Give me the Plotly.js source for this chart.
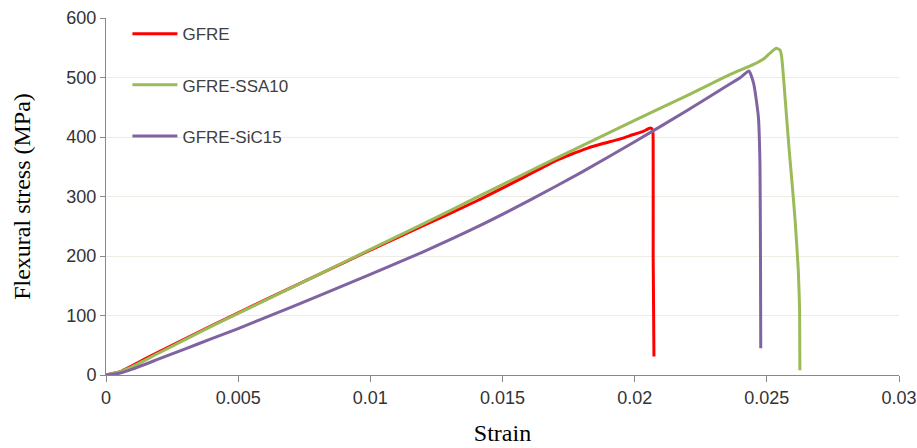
<!DOCTYPE html>
<html>
<head>
<meta charset="utf-8">
<script src="https://cdn.plot.ly/plotly-3.0.1.min.js"></script>
<style>html,body{margin:0;padding:0;background:#fff}#chart{width:917px;height:448px}</style>
</head>
<body>
<div id="chart"></div>
<script>
// Series data
const gfreStrain   = [0, 0.0005, 0.001, 0.002, 0.004, 0.006, 0.008, 0.010, 0.012, 0.014, 0.0157, 0.0170, 0.0176, 0.0182, 0.0188, 0.0194, 0.0198, 0.0203, 0.0206, 0.02068, 0.0207, 0.0207, 0.02073];
const gfreStress   = [0, 5, 16, 39, 83, 126, 168, 210, 251, 292, 330, 360, 371, 381, 389, 396, 402, 409, 415, 412, 380, 200, 31];

const ssaStrain    = [0, 0.0005, 0.001, 0.002, 0.004, 0.006, 0.008, 0.010, 0.012, 0.014, 0.016, 0.018, 0.020, 0.022, 0.0236, 0.0245, 0.0249, 0.0251, 0.02536, 0.0255, 0.02556, 0.02575, 0.02584, 0.02596, 0.02607, 0.02619, 0.02624, 0.02625];
const ssaStress    = [0, 5, 14, 37, 82, 125, 168, 211, 254, 298, 342, 385, 428, 470, 505, 522, 532, 540, 549, 546, 535, 432, 381, 320, 260, 176, 109, 8];

const sicStrain    = [0, 0.0005, 0.001, 0.002, 0.003, 0.004, 0.005, 0.006, 0.008, 0.010, 0.012, 0.014, 0.016, 0.018, 0.020, 0.022, 0.0236, 0.0240, 0.02432, 0.0245, 0.02468, 0.02474, 0.02476, 0.02477];
const sicStress    = [0, 3, 10, 27, 44, 61, 78, 96, 132, 169, 207, 248, 293, 341, 392, 445, 489, 500, 511, 490, 434, 355, 200, 45];

const seriesNames  = ["GFRE", "GFRE-SSA10", "GFRE-SiC15"];
const seriesColors = ["#ff0000", "#9bbb59", "#8064a2"];

const xTickVals = [0, 0.005, 0.01, 0.015, 0.02, 0.025, 0.03];
const xTickText = ["0", "0.005", "0.01", "0.015", "0.02", "0.025", "0.03"];
const yTickVals = [0, 100, 200, 300, 400, 500, 600];

const xs = [gfreStrain, ssaStrain, sicStrain];
const ys = [gfreStress, ssaStress, sicStress];

const traces = seriesNames.map((n, i) => ({
  x: xs[i], y: ys[i], name: n, type: 'scatter', mode: 'lines',
  legendgroup: 'g' + i,
  line: {color: seriesColors[i], width: 3, shape: 'spline', smoothing: 0.5}
}));

const layout = {
  width: 917, height: 448,
  margin: {l: 106, r: 18, t: 18, b: 73},
  paper_bgcolor: '#fff', plot_bgcolor: '#fff',
  showlegend: true,
  legend: {
    x: 0.027, y: 1.005, xanchor: 'left', yanchor: 'top',
    bgcolor: 'rgba(0,0,0,0)', borderwidth: 0,
    font: {family: 'Liberation Sans, Arial, sans-serif', size: 17, color: '#404040'},
    tracegroupgap: 26, itemwidth: 45
  },
  xaxis: {
    range: [0, 0.03], tickmode: 'array', tickvals: xTickVals, ticktext: xTickText,
    showgrid: false, zeroline: false, showline: true, linecolor: '#888', linewidth: 1,
    ticks: 'outside', ticklen: 6, tickcolor: '#888',
    tickfont: {family: 'Liberation Sans, Arial, sans-serif', size: 18, color: '#333'},
    title: {text: 'Strain', font: {family: 'Liberation Serif, Times New Roman, serif', size: 24, color: '#000'}, standoff: 17},
    automargin: false
  },
  yaxis: {
    range: [0, 600], tickmode: 'array', tickvals: yTickVals,
    showgrid: true, gridcolor: '#ededE3', gridwidth: 1,
    zeroline: false, showline: true, linecolor: '#888', linewidth: 1,
    ticks: 'outside', ticklen: 5, tickcolor: '#888',
    tickfont: {family: 'Liberation Sans, Arial, sans-serif', size: 18, color: '#333'},
    title: {text: 'Flexural stress (MPa)', font: {family: 'Liberation Serif, Times New Roman, serif', size: 24, color: '#000'}, standoff: 28},
    automargin: false
  }
};

Plotly.newPlot('chart', traces, layout, {displayModeBar: false, staticPlot: true});
</script>
</body>
</html>
